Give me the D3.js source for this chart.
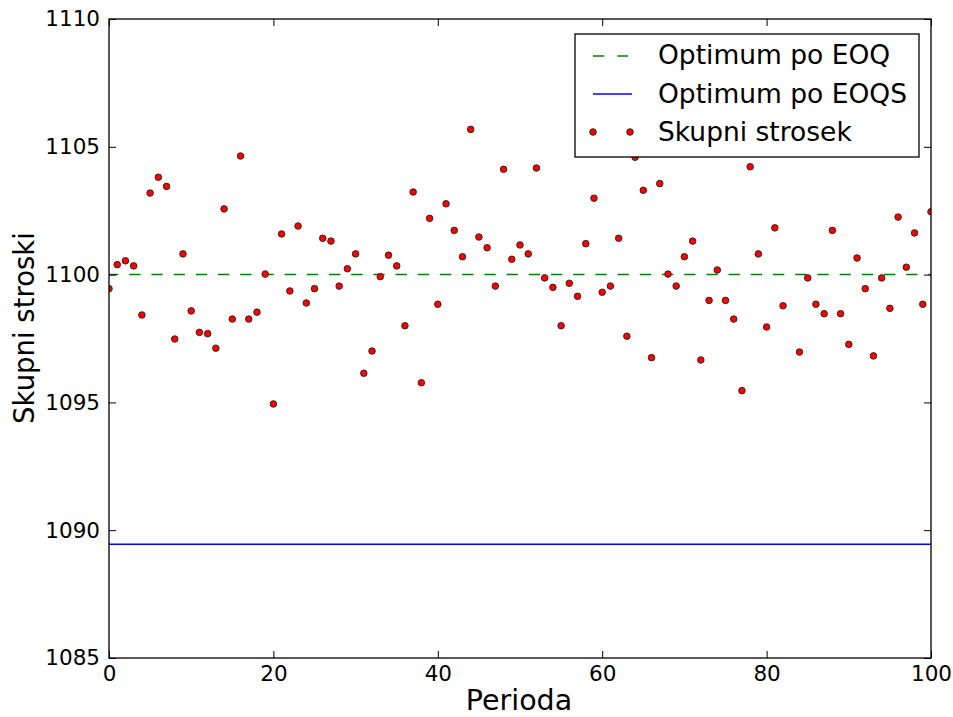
<!DOCTYPE html>
<html>
<head>
<meta charset="utf-8">
<script src="https://cdn.jsdelivr.net/npm/d3@7"></script>
<style>
  html, body { margin: 0; padding: 0; background: #fff; }
  svg { display: block; }
  text { font-family: "DejaVu Sans", sans-serif; fill: #000; }
</style>
</head>
<body>
<svg id="chart" width="953" height="717"></svg>
<script>
// Total cost per period (period 0..100)
const periods = d3.range(0, 101);
const totalCost = [
  1099.45, 1100.39, 1100.54, 1100.34, 1098.42, 1103.19, 1103.81, 1103.45, 1097.48, 1100.81,
  1098.58, 1097.74, 1097.69, 1097.12, 1102.57, 1098.26, 1104.64, 1098.26, 1098.53, 1100.02,
  1094.94, 1101.59, 1099.36, 1101.90, 1098.89, 1099.45, 1101.42, 1101.31, 1099.55, 1100.23,
  1100.81, 1096.14, 1097.01, 1099.92, 1100.76, 1100.34, 1098.00, 1103.23, 1095.77, 1102.20,
  1098.84, 1102.77, 1101.73, 1100.70, 1105.68, 1101.47, 1101.05, 1099.55, 1104.12, 1100.60,
  1101.16, 1100.81, 1104.17, 1099.87, 1099.50, 1098.00, 1099.66, 1099.15, 1101.21, 1102.99,
  1099.31, 1099.55, 1101.42, 1097.59, 1104.59, 1103.30, 1096.75, 1103.56, 1100.02, 1099.55,
  1100.70, 1101.31, 1096.66, 1098.99, 1100.18, 1098.99, 1098.26, 1095.46, 1104.22, 1100.81,
  1097.95, 1101.83, 1098.78, 1106.60, 1096.97, 1099.87, 1098.84, 1098.47, 1101.73, 1098.47,
  1097.27, 1100.65, 1099.45, 1096.82, 1099.87, 1098.68, 1102.25, 1100.29, 1101.63, 1098.84,
  1102.46
];
const optimumEOQ = 1100.0;
const optimumEOQS = 1089.45;

const xTicks = [0, 20, 40, 60, 80, 100];
const yTicks = [1085, 1090, 1095, 1100, 1105, 1110];
const legendLabels = ["Optimum po EOQ", "Optimum po EOQS", "Skupni strosek"];

const W = 953, H = 717;
const margin = { top: 19, right: 22, bottom: 59, left: 109 };
const iw = W - margin.left - margin.right;
const ih = H - margin.top - margin.bottom;

const svg = d3.select("#chart");
const g = svg.append("g").attr("transform", `translate(${margin.left},${margin.top})`);

const x = d3.scaleLinear().domain([0, 100]).range([0, iw]);
const y = d3.scaleLinear().domain([1085, 1110]).range([ih, 0]);

g.append("clipPath").attr("id", "plot-clip")
  .append("rect").attr("width", iw).attr("height", ih);

const plot = g.append("g").attr("clip-path", "url(#plot-clip)");

// reference lines
plot.append("line")
  .attr("x1", x(0)).attr("x2", x(100))
  .attr("y1", y(optimumEOQ)).attr("y2", y(optimumEOQ))
  .attr("stroke", "#008000").attr("stroke-width", 1.5)
  .attr("stroke-dasharray", "11.3,10.9").attr("stroke-dashoffset", 2);

plot.append("line")
  .attr("x1", x(0)).attr("x2", x(100))
  .attr("y1", y(optimumEOQS)).attr("y2", y(optimumEOQS))
  .attr("stroke", "#0000ff").attr("stroke-width", 1.5);

// scatter of total cost
plot.selectAll("circle.pt")
  .data(periods.map((p, i) => ({ p, v: totalCost[i] })))
  .join("circle")
  .attr("class", "pt")
  .attr("cx", d => x(d.p))
  .attr("cy", d => y(d.v))
  .attr("r", 3.3)
  .attr("fill", "#ff0000")
  .attr("stroke", "#222")
  .attr("stroke-width", 0.9);

// axes with inward ticks on all four sides
const tickLen = 7;
const styleAxis = sel => {
  sel.select(".domain").remove();
  sel.selectAll(".tick line").attr("stroke", "#000").attr("stroke-width", 1);
  sel.selectAll("text").style("font-family", "DejaVu Sans").style("font-size", "21.5px").attr("fill", "#000");
};

g.append("g").attr("transform", `translate(0,${ih})`)
  .call(d3.axisBottom(x).tickValues(xTicks).tickFormat(d3.format("d"))
    .tickSizeInner(-tickLen).tickSizeOuter(0).tickPadding(8))
  .call(styleAxis);

g.append("g")
  .call(d3.axisTop(x).tickValues(xTicks).tickFormat("")
    .tickSizeInner(-tickLen).tickSizeOuter(0))
  .call(styleAxis);

g.append("g")
  .call(d3.axisLeft(y).tickValues(yTicks).tickFormat(d3.format("d"))
    .tickSizeInner(-tickLen).tickSizeOuter(0).tickPadding(9))
  .call(styleAxis);

g.append("g").attr("transform", `translate(${iw},0)`)
  .call(d3.axisRight(y).tickValues(yTicks).tickFormat("")
    .tickSizeInner(-tickLen).tickSizeOuter(0))
  .call(styleAxis);

// frame
g.append("rect")
  .attr("width", iw).attr("height", ih)
  .attr("fill", "none").attr("stroke", "#000").attr("stroke-width", 1.3);

// axis titles
svg.append("text")
  .attr("x", 519).attr("y", 710)
  .attr("text-anchor", "middle")
  .style("font-size", "28.5px")
  .text("Perioda");

svg.append("text")
  .attr("transform", "translate(34,328) rotate(-90)")
  .attr("text-anchor", "middle")
  .style("font-size", "27.5px")
  .text("Skupni stroski");

// legend
const lg = svg.append("g");
lg.append("rect")
  .attr("x", 575).attr("y", 34).attr("width", 344).attr("height", 123)
  .attr("fill", "#fff").attr("stroke", "#000").attr("stroke-width", 1.3);

const rowBase = [64, 103, 141];
lg.append("line")
  .attr("x1", 593).attr("x2", 628).attr("y1", rowBase[0] - 8).attr("y2", rowBase[0] - 8)
  .attr("stroke", "#008000").attr("stroke-width", 1.5).attr("stroke-dasharray", "11.3,13");
lg.append("line")
  .attr("x1", 593).attr("x2", 632).attr("y1", rowBase[1] - 9).attr("y2", rowBase[1] - 9)
  .attr("stroke", "#0000ff").attr("stroke-width", 1.5);
[593, 630].forEach(cx => {
  lg.append("circle").attr("cx", cx).attr("cy", rowBase[2] - 9).attr("r", 3.3)
    .attr("fill", "#ff0000").attr("stroke", "#222").attr("stroke-width", 0.9);
});
legendLabels.forEach((t, i) => {
  lg.append("text").attr("x", 658).attr("y", rowBase[i])
    .style("font-size", "26.5px").text(t);
});
</script>
</body>
</html>
